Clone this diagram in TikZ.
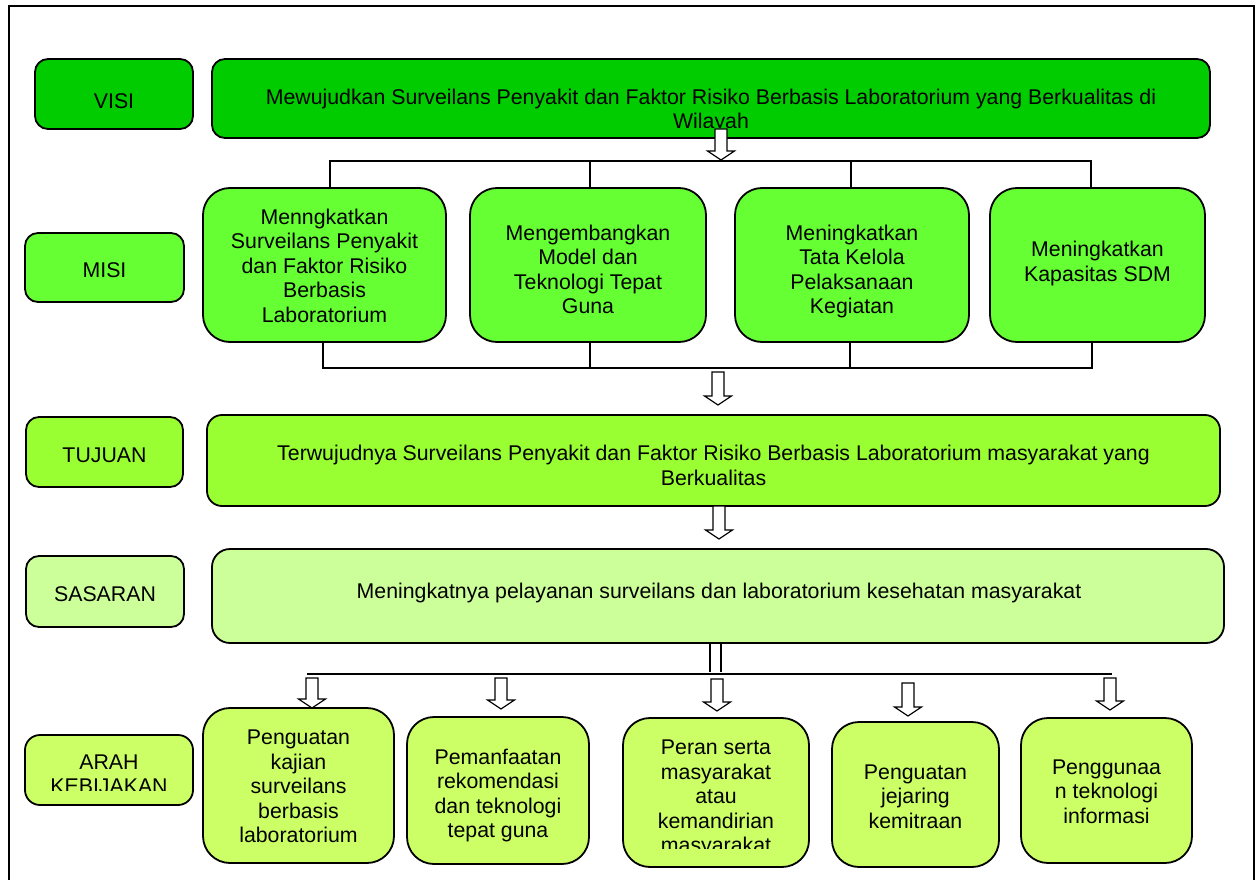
\documentclass[tikz,border=0pt]{standalone}
\usepackage{fontspec}
\setmainfont{Liberation Sans}
\definecolor{cVisi}{HTML}{00CC00}
\definecolor{cMisi}{HTML}{66FF33}
\definecolor{cTuj}{HTML}{99FF33}
\definecolor{cSas}{HTML}{CCFF99}
\definecolor{cArah}{HTML}{CCFF66}
\newcommand\hollowarrow[3]{\draw[harrow] (#1-6,#2) -- (#1+6,#2) -- (#1+6,#3-9) -- (#1+13.5,#3-9) -- (#1,#3) -- (#1-13.5,#3-9) -- (#1-6,#3-9) -- cycle;}
\begin{document}
\begin{tikzpicture}[x=1pt,y=-1pt,
  bx/.style={draw=black, line width=1.8pt, inner sep=0pt, outer sep=0pt},
  txt/.style={font=\fontsize{21.3}{24.5}\selectfont, align=center, inner sep=0pt},
  con/.style={line width=1.5pt},
  harrow/.style={draw=black, fill=white, line width=1.2pt, line join=miter}]
\useasboundingbox (0,0) rectangle (1256,880);
\fill[white] (0,0) rectangle (1256,880);
% frame
\draw[line width=1.5pt] (9,895) -- (9,6) -- (1254,6) -- (1254,895);

% labels
\node[bx, rounded corners=13pt, fill=cVisi, minimum width=158pt, minimum height=70pt] (lvisi) at (114,94) {};
\node[bx, rounded corners=13pt, fill=cMisi, minimum width=159pt, minimum height=69pt] (lmisi) at (104.5,267.5) {};
\node[bx, rounded corners=13pt, fill=cTuj, minimum width=157pt, minimum height=70pt] (ltuj) at (104.5,452) {};
\node[bx, rounded corners=13pt, fill=cSas, minimum width=158pt, minimum height=71pt] (lsas) at (105,591.5) {};
\node[bx, rounded corners=15pt, fill=cArah, minimum width=168pt, minimum height=70pt] (larah) at (109,770) {};

\node[txt] (tlvisi) at (114,104) {\strut VISI};
\node[txt] (tlmisi) at (104.5,272.5) {\strut MISI};
\node[txt] (tltuj) at (104.5,457.5) {\strut TUJUAN};
\node[txt] (tlsas) at (105,596.5) {\strut SASARAN};
\begin{scope}
\clip (25,735) rectangle (193,790.5);
\node[txt] (tlarah) at (109,776.4) {\strut ARAH\\\strut KEBIJAKAN};
\end{scope}

% visi
\node[bx, rounded corners=13pt, fill=cVisi, minimum width=998pt, minimum height=79pt] (vis) at (711,98.5) {};
\begin{scope}
\clip (212,59) rectangle (1210,127.5);
\node[txt] (tvis) at (711,111.4) {\strut Mewujudkan Surveilans Penyakit dan Faktor Risiko Berbasis Laboratorium yang Berkualitas di\\\strut Wilayah};
\end{scope}

% misi
\node[bx, rounded corners=27pt, fill=cMisi, minimum width=243pt, minimum height=154pt] (m1) at (324.5,265) {};
\node[bx, rounded corners=27pt, fill=cMisi, minimum width=236pt, minimum height=154pt] (m2) at (588,265) {};
\node[bx, rounded corners=27pt, fill=cMisi, minimum width=234pt, minimum height=154pt] (m3) at (852,265) {};
\node[bx, rounded corners=27pt, fill=cMisi, minimum width=215pt, minimum height=154pt] (m4) at (1097.5,265) {};
\node[txt] (tm1) at (324.5,268.4) {\strut Menngkatkan\\\strut Surveilans Penyakit\\\strut dan Faktor Risiko\\\strut Berbasis\\\strut Laboratorium};
\node[txt] (tm2) at (588,271.9) {\strut Mengembangkan\\\strut Model dan\\\strut Teknologi Tepat\\\strut Guna};
\node[txt] (tm3) at (852,271.9) {\strut Meningkatkan\\\strut Tata Kelola\\\strut Pelaksanaan\\\strut Kegiatan};
\node[txt] (tm4) at (1097.5,263.9) {\strut Meningkatkan\\\strut Kapasitas SDM};

% tujuan, sasaran
\node[bx, rounded corners=15pt, fill=cTuj, minimum width=1013pt, minimum height=91pt] (tuj) at (713.5,460.5) {};
\node[txt] (ttuj) at (713.5,467.9) {\strut Terwujudnya Surveilans Penyakit dan Faktor Risiko Berbasis Laboratorium masyarakat yang\\\strut Berkualitas};
\node[bx, rounded corners=18pt, fill=cSas, minimum width=1012pt, minimum height=94pt] (sas) at (718,596) {};
\node[txt] (tsas) at (719,593.4) {\strut Meningkatnya pelayanan surveilans dan laboratorium kesehatan masyarakat};

% arah kebijakan
\node[bx, rounded corners=27pt, fill=cArah, minimum width=191pt, minimum height=155pt] (a1) at (298.5,785.5) {};
\node[bx, rounded corners=27pt, fill=cArah, minimum width=182pt, minimum height=147pt] (a2) at (498,790.5) {};
\node[bx, rounded corners=27pt, fill=cArah, minimum width=186pt, minimum height=149pt] (a3) at (716,792.5) {};
\node[bx, rounded corners=27pt, fill=cArah, minimum width=167pt, minimum height=145pt] (a4) at (915.5,794.5) {};
\node[bx, rounded corners=27pt, fill=cArah, minimum width=171pt, minimum height=145pt] (a5) at (1106.5,790.5) {};
\node[txt] (ta1) at (298.5,788.9) {\strut Penguatan\\\strut kajian\\\strut surveilans\\\strut berbasis\\\strut laboratorium};
\node[txt] (ta2) at (498,795.9) {\strut Pemanfaatan\\\strut rekomendasi\\\strut dan teknologi\\\strut tepat guna};
\begin{scope}
\clip (623,718) rectangle (809,848);
\node[txt] (ta3) at (716,798.9) {\strut Peran serta\\\strut masyarakat\\\strut atau\\\strut kemandirian\\\strut masyarakat};
\end{scope}
\node[txt] (ta4) at (915.5,798.9) {\strut Penguatan\\\strut jejaring\\\strut kemitraan};
\node[txt] (ta5) at (1106.5,793.9) {\strut Penggunaa\\\strut n teknologi\\\strut informasi};

% connectors misi
\coordinate (j1) at (330,161);
\coordinate (j2) at (590,161);
\coordinate (j3) at (851,161);
\coordinate (j4) at (1091,161);
\draw[con] (j1 |- m1.north) -- (j1) -- (j4) -- (j4 |- m4.north);
\draw[con] (j2) -- (j2 |- m2.north);
\draw[con] (j3) -- (j3 |- m3.north);
\coordinate (k1) at (323,368);
\coordinate (k2) at (590,368);
\coordinate (k3) at (850,368);
\coordinate (k4) at (1092,368);
\draw[con] (k1 |- m1.south) -- (k1) -- (k4) -- (k4 |- m4.south);
\draw[con] (k2 |- m2.south) -- (k2);
\draw[con] (k3 |- m3.south) -- (k3);

% double line and bus
\coordinate (d1) at (710,672);
\coordinate (d2) at (721,672);
\draw[con] (d1 |- sas.south) -- (d1);
\draw[con] (d2 |- sas.south) -- (d2);
\coordinate (e1) at (307,674);
\coordinate (e2) at (1112,674);
\draw[line width=2pt] (e1) -- (e2);

% hollow arrows
\hollowarrow{721}{129}{160}
\hollowarrow{718}{372}{405}
\hollowarrow{719}{506}{539}
\hollowarrow{312}{678}{708}
\hollowarrow{501}{678}{709}
\hollowarrow{717}{679}{711}
\hollowarrow{908}{683}{716}
\hollowarrow{1110}{678}{710}
\end{tikzpicture}
\end{document}
